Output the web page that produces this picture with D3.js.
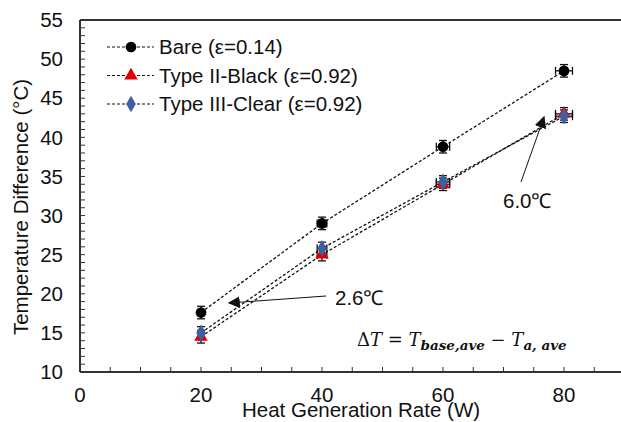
<!DOCTYPE html>
<html>
<head>
<meta charset="utf-8">
<script src="https://cdn.jsdelivr.net/npm/d3@7"></script>
<style>
body { margin: 0; background: #fff; }
svg text { font-family: "Liberation Sans", Arial, sans-serif; }
</style>
</head>
<body>
<div id="wrapper"></div>
<script>
// data
const power = [20, 40, 60, 80];
const bare = [17.6, 29.0, 38.8, 48.5];
const black = [14.5, 25.0, 34.0, 43.0];
const clear = [15.0, 25.8, 34.3, 42.7];
const yErr = [0.8, 0.8, 0.8, 0.8];
const xErr = [0.4, 0.8, 1.1, 1.4];
const seriesNames = ["Bare (ε=0.14)", "Type II-Black (ε=0.92)", "Type III-Clear (ε=0.92)"];
const xTicks = [0, 20, 40, 60, 80];
const yTicks = [10, 15, 20, 25, 30, 35, 40, 45, 50, 55];

let dimensions = {
  width: 621,
  height: 422,
  margin: { top: 20, right: 0, bottom: 50, left: 80 },
};

const fs = 20.5;

const svg = d3.select("#wrapper").append("svg")
  .attr("width", dimensions.width)
  .attr("height", dimensions.height);

const xScale = d3.scaleLinear().domain([0, 90]).range([80, 624.5]);
const yScale = d3.scaleLinear().domain([10, 55]).range([372, 20]);

const axisColor = "#333";

// frame top line
svg.append("line")
  .attr("x1", xScale(0)).attr("x2", dimensions.width)
  .attr("y1", yScale(55)).attr("y2", yScale(55))
  .attr("stroke", axisColor).attr("stroke-width", 2);

// y axis with minor ticks inside
const yAxis = svg.append("g").attr("transform", `translate(${xScale(0)},0)`);
yAxis.append("line")
  .attr("y1", yScale(10)).attr("y2", yScale(55))
  .attr("stroke", axisColor).attr("stroke-width", 2);
yAxis.selectAll(".minor").data(d3.range(11, 55))
  .join("line")
  .attr("x1", 0).attr("x2", 5)
  .attr("y1", d => yScale(d)).attr("y2", d => yScale(d))
  .attr("stroke", axisColor).attr("stroke-width", 1);
yAxis.selectAll(".lab").data(yTicks)
  .join("text")
  .attr("x", -17).attr("y", d => yScale(d))
  .attr("dy", "0.35em")
  .attr("text-anchor", "end")
  .attr("font-size", fs)
  .attr("fill", "#111")
  .text(d => d);

// x axis with ticks inside
const xAxis = svg.append("g").attr("transform", `translate(0,${yScale(10)})`);
xAxis.append("line")
  .attr("x1", xScale(0)).attr("x2", dimensions.width)
  .attr("stroke", axisColor).attr("stroke-width", 2);
xAxis.selectAll(".minor").data(d3.range(5, 90, 5))
  .join("line")
  .attr("x1", d => xScale(d)).attr("x2", d => xScale(d))
  .attr("y1", 0).attr("y2", -5)
  .attr("stroke", axisColor).attr("stroke-width", 1);
xAxis.selectAll(".lab").data(xTicks)
  .join("text")
  .attr("x", d => xScale(d)).attr("y", 30)
  .attr("text-anchor", "middle")
  .attr("font-size", fs)
  .attr("fill", "#111")
  .text(d => d);

// axis titles
svg.append("text")
  .attr("x", 361).attr("y", 417)
  .attr("text-anchor", "middle")
  .attr("font-size", fs)
  .attr("fill", "#111")
  .text("Heat Generation Rate (W)");
svg.append("text")
  .attr("transform", "translate(28,207) rotate(-90)")
  .attr("text-anchor", "middle")
  .attr("font-size", fs)
  .attr("fill", "#111")
  .text("Temperature Difference (°C)");

const series = [
  { name: seriesNames[0], values: bare, color: "#000", shape: d3.symbolCircle, size: 90 },
  { name: seriesNames[1], values: black, color: "#e00000", shape: d3.symbolTriangle, size: 80 },
  { name: seriesNames[2], values: clear, color: "#3f5fa3", shape: d3.symbolDiamond, size: 80 },
];

const lineGenerator = d3.line()
  .x((d, i) => xScale(power[i]))
  .y(d => yScale(d));

series.forEach(s => {
  svg.append("path")
    .attr("d", lineGenerator(s.values))
    .attr("fill", "none")
    .attr("stroke", "#111")
    .attr("stroke-width", 1.3)
    .attr("stroke-dasharray", "3,2");
});

// error bars
series.forEach(s => {
  const g = svg.append("g").attr("stroke", "#111").attr("stroke-width", 1.3);
  s.values.forEach((v, i) => {
    const cx = xScale(power[i]);
    const y1 = yScale(v + yErr[i]), y2 = yScale(v - yErr[i]);
    g.append("line").attr("x1", cx).attr("x2", cx).attr("y1", y1).attr("y2", y2);
    g.append("line").attr("x1", cx - 4).attr("x2", cx + 4).attr("y1", y1).attr("y2", y1);
    g.append("line").attr("x1", cx - 4).attr("x2", cx + 4).attr("y1", y2).attr("y2", y2);
    const x1 = xScale(power[i] - xErr[i]), x2 = xScale(power[i] + xErr[i]);
    const cy = yScale(v);
    g.append("line").attr("x1", x1).attr("x2", x2).attr("y1", cy).attr("y2", cy);
    g.append("line").attr("x1", x1).attr("x2", x1).attr("y1", cy - 4).attr("y2", cy + 4);
    g.append("line").attr("x1", x2).attr("x2", x2).attr("y1", cy - 4).attr("y2", cy + 4);
  });
});

// markers
series.forEach(s => {
  svg.selectAll(null).data(s.values)
    .join("path")
    .attr("transform", (d, i) => `translate(${xScale(power[i])},${yScale(d)})`)
    .attr("d", d3.symbol(s.shape, s.size))
    .attr("fill", s.color);
});

// legend
const legend = svg.append("g");
series.forEach((s, i) => {
  const y = 47 + i * 28.5;
  legend.append("line")
    .attr("x1", 107).attr("x2", 154).attr("y1", y).attr("y2", y)
    .attr("stroke", "#111").attr("stroke-width", 1.2).attr("stroke-dasharray", "3,2");
  legend.append("path")
    .attr("transform", `translate(131,${y})`)
    .attr("d", d3.symbol(s.shape, s.size))
    .attr("fill", s.color);
  legend.append("text")
    .attr("x", 159).attr("y", y).attr("dy", "0.35em")
    .attr("font-size", fs).attr("fill", "#111")
    .text(s.name);
});

// annotations
svg.append("defs").append("marker")
  .attr("id", "arrow")
  .attr("viewBox", "0 0 10 10")
  .attr("refX", 9).attr("refY", 5)
  .attr("markerWidth", 12).attr("markerHeight", 12)
  .attr("markerUnits", "userSpaceOnUse")
  .attr("orient", "auto")
  .append("path").attr("d", "M0,0L10,5L0,10z").attr("fill", "#111");

svg.append("line")
  .attr("x1", 326).attr("y1", 296).attr("x2", 229).attr("y2", 303)
  .attr("stroke", "#111").attr("stroke-width", 1)
  .attr("marker-end", "url(#arrow)");
svg.append("text")
  .attr("x", 335).attr("y", 305)
  .attr("font-size", fs).attr("fill", "#111")
  .text("2.6℃");

svg.append("line")
  .attr("x1", 521).attr("y1", 182).attr("x2", 544).attr("y2", 117)
  .attr("stroke", "#111").attr("stroke-width", 1)
  .attr("marker-end", "url(#arrow)");
svg.append("text")
  .attr("x", 503).attr("y", 208)
  .attr("font-size", fs).attr("fill", "#111")
  .text("6.0℃");

// equation
const eq = svg.append("text")
  .attr("x", 357).attr("y", 346)
  .attr("font-size", 18).attr("fill", "#111")
  .style("font-family", "'DejaVu Serif', 'Liberation Serif', serif");
eq.append("tspan").text("Δ");
eq.append("tspan").attr("font-style", "italic").text("T");
eq.append("tspan").text(" =  ");
eq.append("tspan").attr("font-style", "italic").text("T");
eq.append("tspan").attr("font-style", "italic").attr("font-weight", "bold")
  .attr("font-size", 13.5).attr("dy", 4).text("base,ave");
eq.append("tspan").attr("dy", -4).text(" − ");
eq.append("tspan").attr("font-style", "italic").text("T");
eq.append("tspan").attr("font-style", "italic").attr("font-weight", "bold")
  .attr("font-size", 13.5).attr("dy", 4).text("a, ave");
</script>
</body>
</html>
